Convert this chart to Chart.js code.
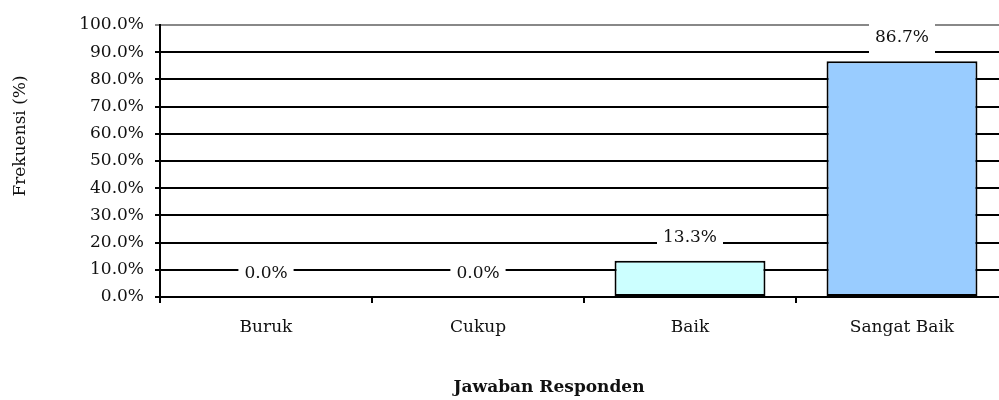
<!DOCTYPE html>
<html>
<head>
<meta charset="utf-8">
<script src="https://cdn.jsdelivr.net/npm/chart.js@4.4.1/dist/chart.umd.min.js"></script>
<style>
  html, body { margin: 0; padding: 0; background: #fff; overflow: hidden; }
  #wrap { width: 1010px; height: 400px; }
</style>
</head>
<body>
<div id="wrap"><canvas id="Chart"></canvas></div>
<script>
// data
const categories = ['Buruk', 'Cukup', 'Baik', 'Sangat Baik'];
const frekuensi = [0.0, 0.0, 13.3, 86.7];
const barColors = ['#CCFFFF', '#CCFFFF', '#CCFFFF', '#99CCFF'];
const yTicks = [0, 10, 20, 30, 40, 50, 60, 70, 80, 90, 100];

const FONT = 'DejaVu Serif';

// white-boxed value labels above each bar
const valueLabels = {
  id: 'valueLabels',
  afterDatasetsDraw(chart) {
    const ctx = chart.ctx;
    const meta = chart.getDatasetMeta(0);
    ctx.save();
    ctx.font = '17px "' + FONT + '"';
    ctx.textAlign = 'center';
    ctx.textBaseline = 'middle';
    meta.data.forEach((bar, i) => {
      const txt = frekuensi[i].toFixed(1) + '%';
      const w = ctx.measureText(txt).width;
      const cy = bar.y - 23.5;
      ctx.fillStyle = '#fff';
      ctx.fillRect(bar.x - w / 2 - 6, cy - 16, w + 12, 32);
      ctx.fillStyle = '#111';
      ctx.fillText(txt, bar.x, cy);
    });
    ctx.restore();
  }
};

// axis titles sit off-centre in the original, so draw them by hand
const axisTitles = {
  id: 'axisTitles',
  afterDraw(chart) {
    const ctx = chart.ctx;
    ctx.save();
    ctx.fillStyle = '#111';
    ctx.textAlign = 'center';
    ctx.textBaseline = 'middle';
    ctx.font = 'bold 17px "' + FONT + '"';
    ctx.fillText('Jawaban Responden', 549, 388);
    ctx.font = '17px "' + FONT + '"';
    ctx.translate(21, 136);
    ctx.rotate(-Math.PI / 2);
    ctx.fillText('Frekuensi (%)', 0, 0);
    ctx.restore();
  }
};

new Chart(document.getElementById('Chart'), {
  type: 'bar',
  data: {
    labels: categories,
    datasets: [{
      data: frekuensi,
      backgroundColor: barColors,
      borderColor: '#000',
      borderWidth: 2,
      borderSkipped: false,
      barPercentage: 0.712,
      categoryPercentage: 1.0
    }]
  },
  options: {
    responsive: true,
    maintainAspectRatio: false,
    animation: false,
    layout: { padding: { top: 25, right: 2, left: 0, bottom: 0 } },
    plugins: {
      legend: { display: false },
      tooltip: { enabled: false }
    },
    scales: {
      x: {
        afterFit: s => { s.height = 103; },
        grid: {
          offset: true,
          drawOnChartArea: false,
          color: '#000',
          lineWidth: 2,
          tickLength: 6
        },
        border: { color: '#000', width: 2 },
        ticks: {
          color: '#111',
          font: { family: FONT, size: 17 },
          padding: 14
        }
      },
      y: {
        min: 0,
        max: 100,
        afterFit: s => { s.width = 160; },
        afterBuildTicks: s => { s.ticks = yTicks.map(v => ({ value: v })); },
        grid: {
          color: c => (c.tick && c.tick.value === 100) ? '#888' : '#000',
          lineWidth: 2,
          tickLength: 5
        },
        border: { color: '#000', width: 2 },
        ticks: {
          color: '#111',
          font: { family: FONT, size: 17 },
          padding: 11,
          callback: v => v.toFixed(1) + '%'
        }
      }
    }
  },
  plugins: [valueLabels, axisTitles]
});
</script>
</body>
</html>
